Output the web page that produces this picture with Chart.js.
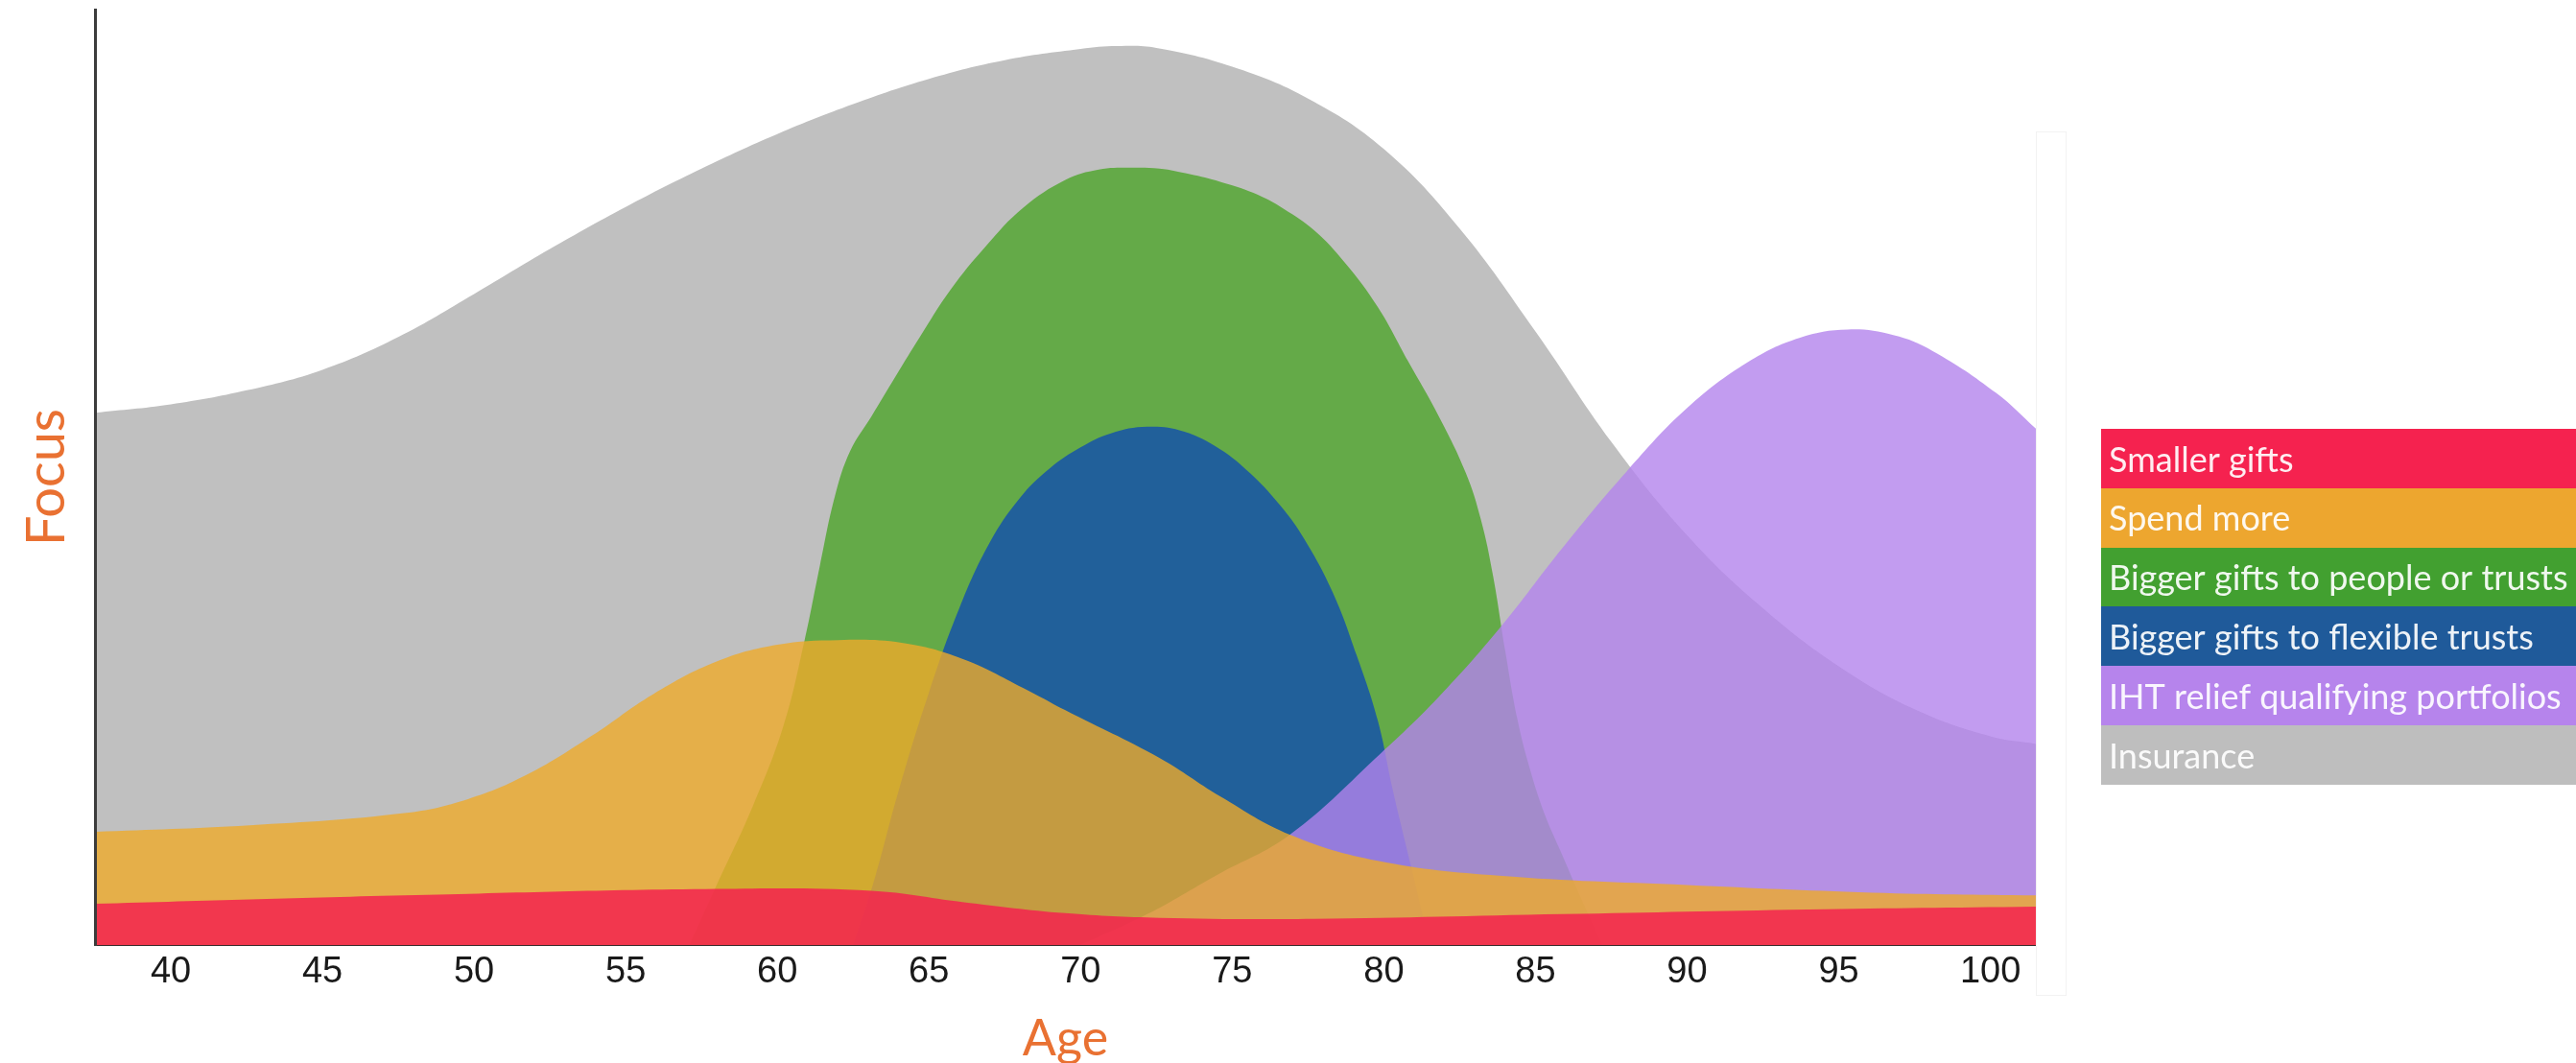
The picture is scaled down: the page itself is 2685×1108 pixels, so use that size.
<!DOCTYPE html>
<html>
<head>
<meta charset="utf-8">
<title>Focus by age</title>
<script src="https://cdn.jsdelivr.net/npm/chart.js@4"></script>
<style>
  html, body { margin: 0; padding: 0; background: #ffffff; }
  #wrap { position: relative; width: 2685px; height: 1108px; }
</style>
</head>
<body>
<div id="wrap"><canvas id="chart"></canvas></div>
<script>
// Series labels, in legend order
const seriesLabels = [
  'Smaller gifts',
  'Spend more',
  'Bigger gifts to people or trusts',
  'Bigger gifts to flexible trusts',
  'IHT relief qualifying portfolios',
  'Insurance'
];

// Age axis tick labels
const ageTicks = [40, 45, 50, 55, 60, 65, 70, 75, 80, 85, 90, 95, 100];

// Smaller gifts
const smallGiftsAges   = [37.5, 47.7, 58.0, 63.1, 66.1, 69.5, 72.6, 77.7, 85.9, 94.0, 101.5];
const smallGiftsValues = [4.4, 5.3, 6.0, 5.8, 4.6, 3.4, 2.9, 2.8, 3.3, 3.8, 4.1];

// Spend more
const spendAges   = [37.5, 42.6, 47.7, 49.8, 51.8, 53.9, 55.9, 58.0, 60.0, 62.0, 64.1, 66.1, 68.1, 69.5, 72.6, 74.6, 76.9, 79.8, 83.8, 90.0, 96.1, 101.5];
const spendValues = [12.1, 12.8, 14.1, 15.6, 18.3, 22.4, 26.8, 30.3, 32.1, 32.6, 32.3, 30.6, 27.5, 25.1, 20.0, 15.9, 11.8, 9.0, 7.4, 6.4, 5.6, 5.3];

// Bigger gifts to people or trusts
const peopleAges   = [57.1, 58.0, 59.2, 60.2, 60.9, 61.4, 61.9, 62.4, 63.1, 63.9, 64.7, 65.7, 66.9, 68.1, 69.5, 70.6, 71.6, 72.6, 73.6, 74.6, 75.7, 76.7, 77.7, 78.7, 79.8, 80.8, 81.8, 82.7, 83.2, 83.6, 84.0, 84.4, 84.8, 85.3, 85.9, 86.5, 87.2];
const peopleValues = [0, 6.4, 14.9, 23.4, 32.6, 40.5, 48.0, 52.8, 56.5, 60.8, 65.0, 70.0, 74.8, 78.8, 81.8, 82.9, 83.1, 83.0, 82.4, 81.6, 80.4, 78.7, 76.4, 73.0, 68.2, 62.4, 56.6, 50.5, 45.5, 39.5, 31.5, 24.2, 19.0, 14.0, 9.5, 5.0, 0];

// Bigger gifts to flexible trusts
const flexibleAges   = [62.5, 63.2, 64.0, 65.0, 66.0, 67.0, 68.0, 69.0, 70.0, 71.0, 72.2, 73.4, 74.6, 75.6, 76.5, 77.3, 78.3, 79.1, 79.8, 80.3, 80.9, 81.5];
const flexibleValues = [0, 7.0, 16.5, 27.0, 36.0, 43.0, 47.8, 51.0, 53.2, 54.7, 55.4, 54.9, 53.0, 50.4, 47.3, 43.8, 37.8, 31.0, 24.0, 16.5, 8.4, 0];

// IHT relief qualifying portfolios
const ihtAges   = [70.0, 72.2, 74.5, 76.9, 79.9, 81.8, 83.8, 85.9, 88.0, 90.0, 92.0, 93.7, 95.3, 96.8, 98.1, 100.2, 101.5];
const ihtValues = [0, 3.3, 7.5, 11.8, 20.5, 26.5, 33.8, 42.5, 50.6, 57.4, 62.3, 64.9, 65.8, 65.2, 63.5, 59.0, 55.2];

// Insurance
const insuranceAges   = [37.5, 40.0, 42.5, 45.0, 47.5, 50.0, 52.5, 55.0, 57.5, 60.0, 62.5, 65.0, 67.5, 70.0, 71.2, 72.5, 75.0, 77.5, 80.0, 82.5, 85.0, 87.5, 90.0, 92.5, 95.0, 97.5, 100.0, 101.5];
const insuranceValues = [56.9, 57.8, 59.3, 61.5, 65.0, 69.6, 74.4, 78.9, 83.0, 86.7, 89.9, 92.6, 94.6, 95.8, 96.1, 95.9, 93.9, 90.5, 85.1, 76.6, 65.6, 53.8, 43.8, 36.0, 29.8, 25.2, 22.3, 21.5];

const seriesAges   = [smallGiftsAges, spendAges, peopleAges, flexibleAges, ihtAges, insuranceAges];
const seriesValues = [smallGiftsValues, spendValues, peopleValues, flexibleValues, ihtValues, insuranceValues];

// Area fills (translucent where layers show through) and solid legend swatches
const fillColors   = ['rgba(245,34,79,0.85)', 'rgba(238,170,42,0.8)', '#64aa48', '#21609a', 'rgba(179,131,236,0.8)', '#c0c0c0'];
const swatchColors = ['#f5224f', '#eda62f', '#42a030', '#1f5a9a', '#b684ec', '#bebebe'];
// Lower order is painted on top
const drawOrder    = [0, 1, 4, 3, 2, 5];

const datasets = seriesLabels.map((label, i) => ({
  label,
  data: seriesAges[i].map((a, j) => ({ x: a, y: seriesValues[i][j] })),
  backgroundColor: fillColors[i],
  borderColor: 'rgba(0,0,0,0)',
  borderWidth: 0,
  pointRadius: 0,
  fill: 'origin',
  tension: 0.4,
  order: drawOrder[i]
}));

// Stacked colour-block legend to the right of the plot, plus the faint frame beside the plot
const blockLegend = {
  id: 'blockLegend',
  afterDraw(chart) {
    const ctx = chart.ctx;
    const area = chart.chartArea;
    ctx.save();
    ctx.strokeStyle = '#f2f2f2';
    ctx.lineWidth = 1;
    ctx.strokeRect(Math.round(area.right) + 0.5, 137.5, 31, 900);

    const x0 = 2190, y0 = 447, w = 495, h = 61.8;
    ctx.font = '36px Lato, "Open Sans", sans-serif';
    ctx.textBaseline = 'middle';
    ctx.textAlign = 'left';
    seriesLabels.forEach((label, i) => {
      const y = y0 + i * h;
      ctx.fillStyle = swatchColors[i];
      ctx.fillRect(x0, Math.round(y), w, Math.round(y + h) - Math.round(y));
      ctx.fillStyle = 'rgba(255,255,255,0.92)';
      ctx.fillText(label, x0 + 8, y + h / 2 + 2);
    });
    ctx.restore();
  }
};

new Chart(document.getElementById('chart'), {
  type: 'line',
  data: { datasets },
  plugins: [blockLegend],
  options: {
    responsive: true,
    maintainAspectRatio: false,
    animation: false,
    devicePixelRatio: 1,
    layout: { padding: { top: 10, right: 563, bottom: 0, left: 0 } },
    plugins: {
      legend: { display: false },
      tooltip: { enabled: false }
    },
    scales: {
      x: {
        type: 'linear',
        min: 37.5,
        max: 101.5,
        afterBuildTicks: (scale) => { scale.ticks = ageTicks.map(v => ({ value: v })); },
        afterFit: (scale) => { scale.height = 123; },
        grid: { display: false, drawTicks: false },
        border: { display: true, color: '#3a2a2a', width: 2 },
        ticks: {
          padding: 6,
          color: '#1a1a1a',
          font: { family: '"Liberation Sans", Arial, sans-serif', size: 38 },
          maxRotation: 0,
          autoSkip: false
        },
        title: {
          display: true,
          text: 'Age',
          color: '#e97132',
          font: { family: 'Lato, "Open Sans", sans-serif', size: 52 },
          padding: { top: 0, bottom: -6 }
        }
      },
      y: {
        type: 'linear',
        min: 0,
        max: 100,
        afterFit: (scale) => { scale.width = 99; },
        grid: { display: false, drawTicks: false },
        border: { display: true, color: '#3c3c3c', width: 3, z: 1 },
        ticks: { display: false },
        title: {
          display: true,
          text: 'Focus',
          color: '#e97132',
          font: { family: 'Lato, "Open Sans", sans-serif', size: 56 },
          padding: { top: 15, bottom: 0 }
        }
      }
    }
  }
});
</script>
</body>
</html>
